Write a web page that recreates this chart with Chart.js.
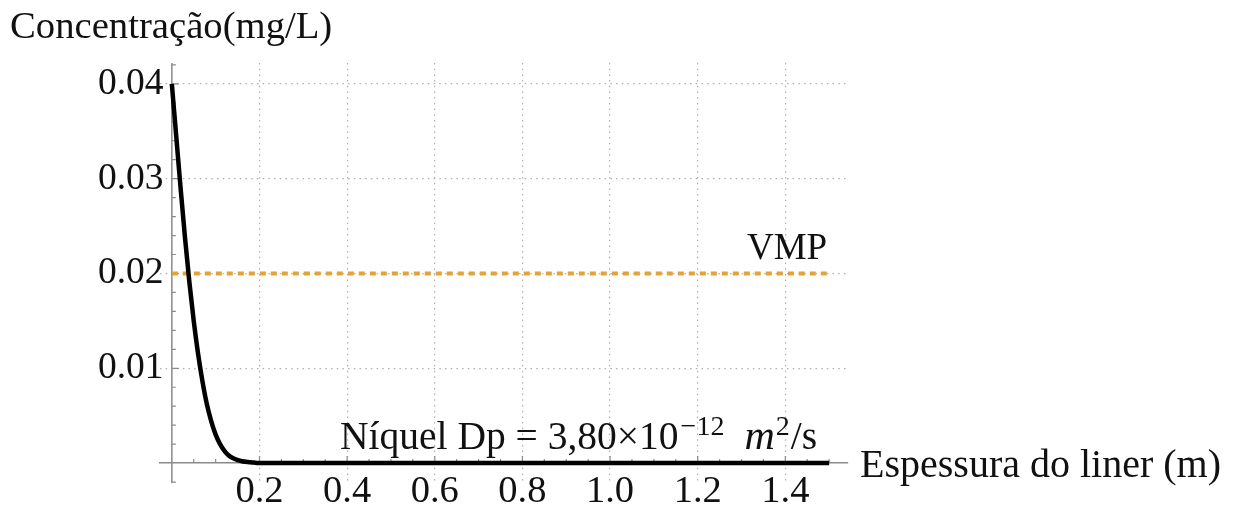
<!DOCTYPE html>
<html>
<head>
<meta charset="utf-8">
<script src="https://cdn.jsdelivr.net/npm/chart.js@4.4.1/dist/chart.umd.min.js"></script>
<style>
  html, body { margin: 0; padding: 0; background: #fff; }
  #wrap { width: 1238px; height: 506px; position: relative; }
</style>
</head>
<body>
<div id="wrap"><canvas id="chart"></canvas></div>
<script>
// Concentration profile
const THICKNESS = [0, 0.01, 0.02, 0.03, 0.04, 0.05, 0.06, 0.07, 0.08, 0.09, 0.10, 0.11, 0.12, 0.13, 0.14, 0.16, 0.18, 0.2, 0.4, 0.6, 0.8, 1.0, 1.2, 1.4, 1.5];
const CONCENTRATION = [0.0400, 0.0345, 0.0290, 0.0238, 0.0191, 0.0150, 0.0115, 0.0086, 0.0062, 0.0044, 0.0030, 0.0020, 0.0013, 0.0008, 0.0005, 0.0002, 0.0001, 0, 0, 0, 0, 0, 0, 0, 0];

// VMP limit line
const VMP_X = [0, 1.5];
const VMP_Y = [0.02, 0.02];

const X_TICKS = [0.2, 0.4, 0.6, 0.8, 1.0, 1.2, 1.4];
const Y_TICKS = [0.01, 0.02, 0.03, 0.04];

const SERIF = "'Liberation Serif', 'Times New Roman', serif";
const AXIS_GRAY = '#8a8a8a';

// keep the axes from eating space: the chart area is set by layout padding only
function noSpace(s) {
    if (s.isHorizontal()) s.height = 0; else s.width = 0;
    s.paddingTop = s.paddingBottom = s.paddingLeft = s.paddingRight = 0;
}

// vertical axis line at x = 0 plus minor ticks (Mathematica style, pointing inward)
const axisTicks = {
    id: 'axisTicks',
    beforeDatasetsDraw(chart) {
        const { ctx, chartArea, scales: { x, y } } = chart;
        const x0 = x.getPixelForValue(0), y0 = y.getPixelForValue(0);
        ctx.save();
        ctx.strokeStyle = AXIS_GRAY;
        ctx.lineWidth = 1.5;
        ctx.beginPath();
        ctx.moveTo(x0, chartArea.top); ctx.lineTo(x0, chartArea.bottom);
        ctx.stroke();
        ctx.lineWidth = 1.2;
        ctx.beginPath();
        for (let k = 1; k * 0.05 <= x.max + 1e-9; k++) {
            const px = x.getPixelForValue(k * 0.05);
            const len = k % 4 === 0 ? 7 : 4;
            ctx.moveTo(px, y0); ctx.lineTo(px, y0 - len);
        }
        for (let k = -1; k * 0.002 <= y.max + 1e-9; k++) {
            if (k === 0) continue;
            const py = y.getPixelForValue(k * 0.002);
            const len = k % 5 === 0 ? 7 : 4;
            ctx.moveTo(x0, py); ctx.lineTo(x0 + len, py);
        }
        ctx.stroke();
        ctx.restore();
    }
};

// axis titles and annotations
const labels = {
    id: 'labels',
    afterDraw(chart) {
        const { ctx } = chart;
        ctx.save();
        ctx.fillStyle = '#111';
        ctx.textBaseline = 'alphabetic';
        ctx.textAlign = 'left';
        ctx.font = `38.7px ${SERIF}`;
        ctx.fillText('Concentração(mg/L)', 10, 38);
        ctx.font = `40px ${SERIF}`;
        ctx.fillText('Espessura do liner (m)', 860, 477);
        ctx.font = `37px ${SERIF}`;
        ctx.fillText('VMP', 747, 259);

        // Níquel Dp = 3,80×10^-12 m^2/s
        const base = 449;
        ctx.font = `39.5px ${SERIF}`;
        let t = 'Níquel Dp = 3,80×10';
        ctx.fillText(t, 340, base);
        let cx = 340 + ctx.measureText(t).width + 2;
        ctx.font = `28px ${SERIF}`;
        t = '−12';
        ctx.fillText(t, cx, base - 14);
        cx += ctx.measureText(t).width + 20;
        ctx.font = `italic 42px ${SERIF}`;
        ctx.fillText('m', cx, base);
        cx += ctx.measureText('m').width + 1;
        ctx.font = `28px ${SERIF}`;
        ctx.fillText('2', cx, base - 14);
        cx += ctx.measureText('2').width + 1;
        ctx.font = `39.5px ${SERIF}`;
        ctx.fillText('/s', cx, base);
        ctx.restore();
    }
};

function init() {
    const curve = THICKNESS.map((v, i) => ({ x: v, y: CONCENTRATION[i] }));
    const vmp = VMP_X.map((v, i) => ({ x: v, y: VMP_Y[i] }));

    new Chart(document.getElementById('chart'), {
        type: 'line',
        data: {
            datasets: [
                { data: curve, borderColor: '#000', borderWidth: 4.5, pointRadius: 0, cubicInterpolationMode: 'monotone', order: 0 },
                { data: vmp, borderColor: '#e9a133', borderWidth: 4, borderDash: [6, 5], pointRadius: 0, order: 1 }
            ]
        },
        options: {
            responsive: true, maintainAspectRatio: false, animation: false,
            layout: { padding: { left: 160, right: 390, top: 63, bottom: 23 } },
            plugins: { legend: { display: false }, tooltip: { enabled: false } },
            scales: {
                x: {
                    type: 'linear', min: -0.027, max: 1.543,
                    position: { y: 0 },
                    afterBuildTicks: s => { s.ticks = X_TICKS.map(v => ({ value: v })); },
                    afterFit: noSpace,
                    grid: { color: '#b0b0b0', lineWidth: 1.2, drawTicks: false },
                    border: { color: AXIS_GRAY, width: 1.5, dash: [1.5, 4.2] },
                    ticks: { padding: 5.5, color: '#111', font: { family: SERIF, size: 38.5 }, maxRotation: 0, autoSkip: false,
                             callback: v => v.toFixed(1) }
                },
                y: {
                    type: 'linear', min: -0.0021, max: 0.0422,
                    // labels sit just left of this spot; the axis line itself is drawn at x = 0
                    position: { x: -0.019 },
                    afterBuildTicks: s => { s.ticks = Y_TICKS.map(v => ({ value: v })); },
                    afterFit: noSpace,
                    grid: { color: '#b0b0b0', lineWidth: 1.2, drawTicks: false },
                    border: { display: false, dash: [1.5, 4.2] },
                    ticks: { padding: 0, color: '#111', font: { family: SERIF, size: 37.5 }, autoSkip: false,
                             callback: v => v.toFixed(2) }
                }
            }
        },
        plugins: [axisTicks, labels]
    });
}

window.onload = init;
</script>
</body>
</html>
